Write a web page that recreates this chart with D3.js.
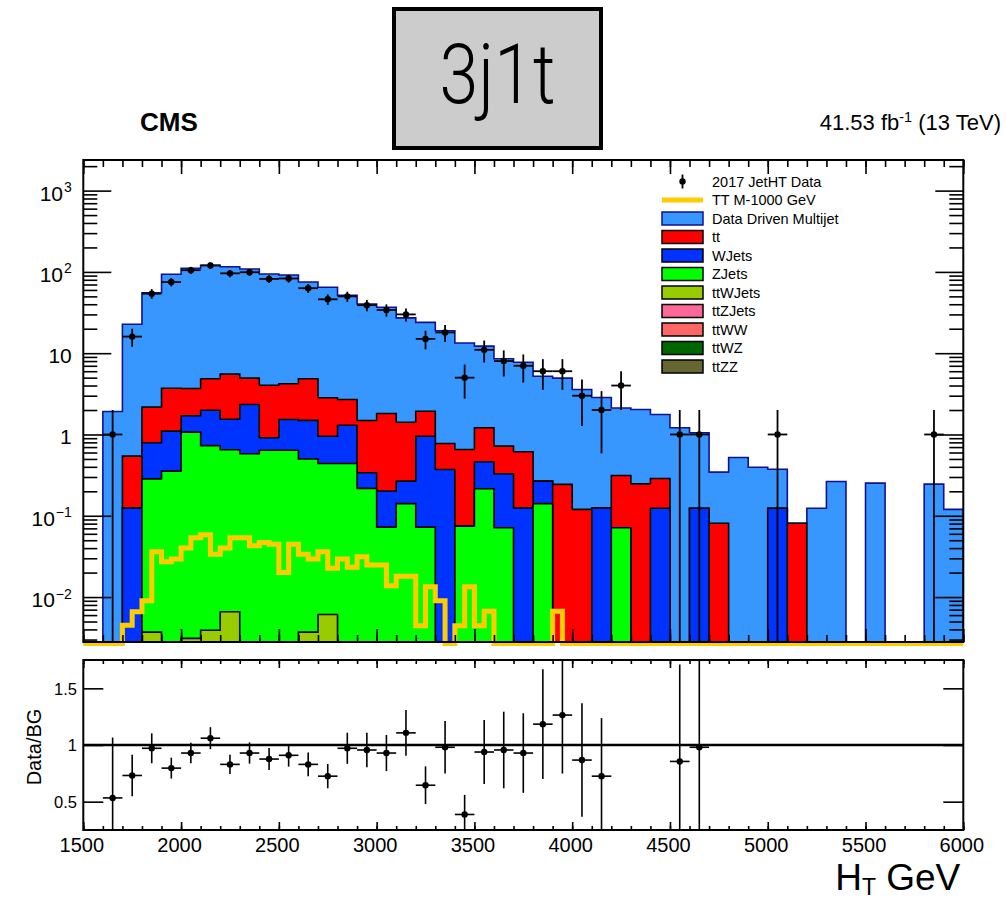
<!DOCTYPE html>
<html>
<head>
<meta charset="utf-8">
<script src="https://cdn.jsdelivr.net/npm/d3@7"></script>
<style>
  body { margin: 0; background: #fff; }
  svg { display: block; }
  text { font-family: "Liberation Sans", Arial, Helvetica, sans-serif; fill: #000; }
</style>
</head>
<body>
<svg id="chart" width="1007" height="904"></svg>
<script>
// ---------------- data ----------------
// H_T binning (GeV): 45 bins of 100 GeV for the backgrounds and data
const htMin = 1500, htMax = 6000, binWidth = 100;
// signal histogram uses 50 GeV bins
const sigBinWidth = 50;

// background yields per 100 GeV bin (events)
const qcd = [0, 1.92, 22.2, 53.3, 89.7, 107.0, 115.8, 110.4, 103.7, 90.3, 87.4, 70.3, 62.0, 48.9, 38.8,
  35.0, 25.8, 22.0, 18.1, 12.7, 11.0, 7.81, 7.14, 4.94, 4.69, 3.46, 2.73, 1.80, 1.78, 1.47,
  1.21, 0.926, 0.263, 0.521, 0.396, 0.250, 0, 0.124, 0.264, 0, 0.252, 0, 0, 0.245, 0.120];
const tt = [0, 0, 0.416, 1.38, 2.61, 1.98, 2.85, 3.98, 2.59, 3.13, 2.67, 3.35, 1.88, 1.39, 1.15,
  1.61, 1.15, 0.98, 0.404, 0.58, 0.75, 0.389, 0.487, 0, 0.243, 0.120, 0, 0.242, 0.247, 0.164,
  0, 0, 0.081, 0, 0, 0, 0.081, 0, 0, 0, 0, 0, 0, 0, 0];
const wJets = [0, 0, 0.125, 0.505, 0.746, 0.63, 1.26, 0.89, 1.76, 0.27, 0.89, 0.99, 0.51, 0.86, 0.121,
  0.129, 0.126, 0.88, 0.371, 0, 0.247, 0.258, 0.125, 0.126, 0, 0, 0.125, 0, 0, 0.124,
  0, 0.124, 0, 0, 0, 0.124, 0, 0, 0, 0, 0, 0, 0, 0, 0];
const zJets = [0, 0, 0, 0.281, 0.354, 1.067, 0.726, 0.643, 0.58, 0.64, 0.64, 0.496, 0.434, 0.44, 0.217,
  0.0724, 0.141, 0.0724, 0, 0.0745, 0.215, 0.0711, 0, 0.141, 0, 0, 0, 0.0711, 0, 0,
  0, 0, 0, 0, 0, 0, 0, 0, 0, 0, 0, 0, 0, 0, 0];
const ttWJets = [0, 0, 0, 0.0037, 0, 0.0031, 0.0039, 0.0066, 0, 0, 0, 0.0037, 0.0061, 0, 0,
  0, 0, 0, 0, 0, 0, 0, 0, 0, 0, 0, 0, 0, 0, 0,
  0, 0, 0, 0, 0, 0, 0, 0, 0, 0, 0, 0, 0, 0, 0];
const ttZJets = new Array(45).fill(0);
const ttWW = new Array(45).fill(0);
const ttWZ = new Array(45).fill(0);
const ttZZ = new Array(45).fill(0);

// TT M-1000 GeV signal per 50 GeV bin
const signal = [0, 0, 0, 0, 0.0045, 0.0066, 0.0090, 0.0361, 0.0272, 0.0293,
  0.0400, 0.0536, 0.0584, 0.0337, 0.0400, 0.0536, 0.0536, 0.0428, 0.0469, 0.0447,
  0.0201, 0.0447, 0.0337, 0.0293, 0.0361, 0.0226, 0.0293, 0.0232, 0.0314, 0.0248,
  0.0248, 0.0138, 0.0180, 0.0180, 0.00445, 0.0134, 0.0090, 0, 0.00445, 0.0134,
  0.00445, 0.0067, 0, 0, 0, 0, 0, 0, 0.0067, 0,
  0, 0, 0, 0, 0, 0, 0, 0, 0, 0,
  0, 0, 0, 0, 0, 0, 0, 0, 0, 0,
  0, 0, 0, 0, 0, 0, 0, 0, 0, 0,
  0, 0, 0, 0, 0, 0, 0, 0, 0, 0];

// 2017 JetHT data counts per 100 GeV bin
const dataCounts = [0, 1, 16, 54, 75, 105, 120, 96, 99, 82, 83, 63, 46, 50, 39,
  34, 30, 15, 18, 5, 11, 8, 7, 6, 6, 3, 2, 4, 0, 0,
  1, 1, 0, 0, 0, 1, 0, 0, 0, 0, 0, 0, 0, 1, 0];

// Data / background ratio per bin (null where there is no data)
const ratio = [null, 0.533, 0.731, 0.971, 0.796, 0.929, 1.060, 0.829, 0.929, 0.876, 0.909, 0.829, 0.725, 0.971, 0.956,
  0.929, 1.107, 0.645, 0.980, 0.387, 0.938, 0.956, 0.929, 1.184, 1.264, 0.867, 0.725, 1.90, null, null,
  0.855, 0.980, null, null, null, 2.67, null, null, null, null, null, null, null, 4.08, null];

// axis tick values
const xMajorTicks = [1500, 2000, 2500, 3000, 3500, 4000, 4500, 5000, 5500, 6000];
const yDecades = [0.01, 0.1, 1, 10, 100, 1000];
const ratioTicks = [0.5, 1, 1.5];

// legend
const legendLabels = ["2017 JetHT Data", "TT M-1000 GeV", "Data Driven Multijet", "tt", "WJets",
  "ZJets", "ttWJets", "ttZJets", "ttWW", "ttWZ", "ttZZ"];

// ---------------- styles ----------------
const colors = {
  QCD: "#3896ff", tt: "#ff0000", WJets: "#0033ff", ZJets: "#00ff00", ttWJets: "#99cc00",
  ttZJets: "#ff6699", ttWW: "#ff6666", ttWZ: "#006600", ttZZ: "#666633"
};
const outline = { QCD: "#101090" };
const signalColor = "#ffcc00";

// ---------------- layout ----------------
const svg = d3.select("#chart");
const X0 = 83.3, X1 = 963.3;
const UP = { top: 160, bottom: 642 };
const LO = { top: 660, bottom: 830 };

const x = d3.scaleLinear().domain([htMin, htMax]).range([X0, X1]);
const y = d3.scaleLog().domain([0.0028, 2380]).range([UP.bottom, UP.top]);
const yr = d3.scaleLinear().domain([0.25, 1.75]).range([LO.bottom, LO.top]);

const yVal = v => (v > y.domain()[0] ? Math.max(y(v), UP.top) : UP.bottom);
const line = d3.line();

// step outline of a binned histogram, starting and ending on the floor
function stepPoints(vals, width, yf, floorY) {
  const pts = [[x(htMin), floorY]];
  vals.forEach((v, i) => {
    const yy = yf(v);
    pts.push([x(htMin + i * width), yy], [x(htMin + (i + 1) * width), yy]);
  });
  pts.push([x(htMin + vals.length * width), floorY]);
  return pts;
}

// ---------------- stacked backgrounds ----------------
const keys = ["ttZZ", "ttWZ", "ttWW", "ttZJets", "ttWJets", "ZJets", "WJets", "tt", "QCD"];
const seriesValues = { ttZZ, ttWZ, ttWW, ttZJets, ttWJets, ZJets: zJets, WJets: wJets, tt, QCD: qcd };
const table = qcd.map((_, i) => {
  const row = {};
  keys.forEach(k => row[k] = seriesValues[k][i]);
  return row;
});
const layers = d3.stack().keys(keys)(table);

svg.append("clipPath").attr("id", "upClip")
  .append("rect").attr("x", X0).attr("y", UP.top).attr("width", X1 - X0).attr("height", UP.bottom - UP.top);

const stackG = svg.append("g").attr("clip-path", "url(#upClip)");
layers.slice().reverse().forEach(layer => {
  const tops = layer.map(d => d[1]);
  const pts = stepPoints(tops, binWidth, yVal, UP.bottom);
  stackG.append("path").attr("d", line(pts) + "Z").attr("fill", colors[layer.key]).attr("stroke", "none");
  stackG.append("path").attr("d", line(pts)).attr("fill", "none")
    .attr("stroke", outline[layer.key] || "#000").attr("stroke-width", 1.6);
});

// ---------------- signal ----------------
svg.append("path")
  .attr("d", line(stepPoints(signal, sigBinWidth, v => (v > y.domain()[0] ? y(v) : UP.bottom + 1.5), UP.bottom + 1.5)))
  .attr("fill", "none").attr("stroke", signalColor).attr("stroke-width", 5)
  .attr("stroke-linejoin", "miter");

// ---------------- data points ----------------
const dataG = svg.append("g");
dataCounts.forEach((n, i) => {
  if (n <= 0) return;
  const xl = x(htMin + i * binWidth), xr = x(htMin + (i + 1) * binWidth), xc = (xl + xr) / 2;
  const e = Math.sqrt(n);
  dataG.append("line").attr("x1", xl).attr("x2", xr).attr("y1", y(n)).attr("y2", y(n))
    .attr("stroke", "#000").attr("stroke-width", 1.8);
  dataG.append("line").attr("x1", xc).attr("x2", xc).attr("y1", yVal(n + e)).attr("y2", yVal(n - e))
    .attr("stroke", "#000").attr("stroke-width", 1.8);
  dataG.append("circle").attr("cx", xc).attr("cy", y(n)).attr("r", 3.2).attr("fill", "#000");
});

// ---------------- frames & axes ----------------
function styleAxis(g) {
  g.select(".domain").remove();
  g.selectAll(".tick line").attr("stroke", "#000").attr("stroke-width", 1.6);
  g.attr("font-family", null).attr("font-size", null);
}

// upper frame
svg.append("rect").attr("x", X0).attr("y", UP.top).attr("width", X1 - X0).attr("height", UP.bottom - UP.top)
  .attr("fill", "none").attr("stroke", "#000").attr("stroke-width", 2);

const minor100 = d3.range(htMin, htMax + 1, 100);
// upper x ticks (top and bottom, no labels)
[[d3.axisTop, UP.top, -14, -7], [d3.axisBottom, UP.bottom, -13, -7]].forEach(([ax, yy, big, small]) => {
  svg.append("g").attr("transform", `translate(0,${yy})`)
    .call(ax(x).tickValues(minor100).tickSize(small).tickFormat("")).call(styleAxis);
  svg.append("g").attr("transform", `translate(0,${yy})`)
    .call(ax(x).tickValues(xMajorTicks).tickSize(big).tickFormat("")).call(styleAxis);
});

// upper y ticks (log)
const yMinor = [];
[0.001, 0.01, 0.1, 1, 10, 100, 1000].forEach(d => {
  for (let m = 2; m <= 9; m++) { const v = d * m; if (v >= y.domain()[0] && v <= y.domain()[1]) yMinor.push(v); }
});
svg.append("g").attr("transform", `translate(${X0},0)`)
  .call(d3.axisLeft(y).tickValues(yMinor).tickSize(-14).tickFormat("")).call(styleAxis);
svg.append("g").attr("transform", `translate(${X1},0)`)
  .call(d3.axisRight(y).tickValues(yMinor).tickSize(-14).tickFormat("")).call(styleAxis);
svg.append("g").attr("transform", `translate(${X1},0)`)
  .call(d3.axisRight(y).tickValues(yDecades).tickSize(-28).tickFormat("")).call(styleAxis);

const yLeft = svg.append("g").attr("transform", `translate(${X0},0)`)
  .call(d3.axisLeft(y).tickValues(yDecades).tickSize(-28).tickPadding(11.5)).call(styleAxis);
yLeft.selectAll(".tick text").each(function (d) {
  const t = d3.select(this).text("").attr("font-size", 21).attr("dy", "0.45em");
  const exp = Math.round(Math.log10(d));
  if (exp === 0) { t.text("1"); return; }
  if (exp === 1) { t.text("10"); return; }
  t.append("tspan").text("10");
  t.append("tspan").attr("font-size", 14).attr("dy", "-0.6em").attr("dx", 1)
    .text(exp < 0 ? "\u2212" + (-exp) : String(exp));
});

// lower frame
svg.append("rect").attr("x", X0).attr("y", LO.top).attr("width", X1 - X0).attr("height", LO.bottom - LO.top)
  .attr("fill", "none").attr("stroke", "#000").attr("stroke-width", 2);

[[d3.axisTop, LO.top], [d3.axisBottom, LO.bottom]].forEach(([ax, yy]) => {
  svg.append("g").attr("transform", `translate(0,${yy})`)
    .call(ax(x).tickValues(minor100).tickSize(-4).tickFormat("")).call(styleAxis);
});
svg.append("g").attr("transform", `translate(0,${LO.top})`)
  .call(d3.axisTop(x).tickValues(xMajorTicks).tickSize(-8).tickFormat("")).call(styleAxis);
const xLow = svg.append("g").attr("transform", `translate(0,${LO.bottom})`)
  .call(d3.axisBottom(x).tickValues(xMajorTicks).tickSize(-8).tickPadding(7.8).tickFormat(d3.format("d")))
  .call(styleAxis);
xLow.selectAll(".tick text").attr("font-size", 20).attr("dx", -2);

const rLeft = svg.append("g").attr("transform", `translate(${X0},0)`)
  .call(d3.axisLeft(yr).tickValues(ratioTicks).tickSize(-20).tickPadding(6.3).tickFormat(d => String(d)))
  .call(styleAxis);
rLeft.selectAll(".tick text").attr("font-size", 16.5).attr("dy", "0.36em");
svg.append("g").attr("transform", `translate(${X1},0)`)
  .call(d3.axisRight(yr).tickValues(ratioTicks).tickSize(-20).tickFormat("")).call(styleAxis);

// unity line
svg.append("line").attr("x1", X0).attr("x2", X1).attr("y1", yr(1)).attr("y2", yr(1))
  .attr("stroke", "#000").attr("stroke-width", 2.6);

// ratio points
const rG = svg.append("g");
ratio.forEach((r, i) => {
  if (r === null || r < yr.domain()[0] || r > yr.domain()[1]) return;
  const xl = x(htMin + i * binWidth), xr = x(htMin + (i + 1) * binWidth), xc = (xl + xr) / 2;
  const e = r / Math.sqrt(dataCounts[i]);
  const cl = v => Math.min(Math.max(yr(v), LO.top), LO.bottom);
  rG.append("line").attr("x1", xl).attr("x2", xr).attr("y1", yr(r)).attr("y2", yr(r))
    .attr("stroke", "#000").attr("stroke-width", 1.6);
  rG.append("line").attr("x1", xc).attr("x2", xc).attr("y1", cl(r + e)).attr("y2", cl(r - e))
    .attr("stroke", "#000").attr("stroke-width", 1.6);
  rG.append("circle").attr("cx", xc).attr("cy", yr(r)).attr("r", 3.2).attr("fill", "#000");
});

// ---------------- labels ----------------
svg.append("text").attr("transform", `translate(41,${(LO.top + LO.bottom) / 2 + 2}) rotate(-90)`)
  .attr("text-anchor", "middle").attr("font-size", 20).text("Data/BG");

const xt = svg.append("text").attr("x", X1 - 3).attr("y", 890).attr("text-anchor", "end").attr("font-size", 37);
xt.append("tspan").text("H");
xt.append("tspan").attr("font-size", 23).attr("dy", 5).text("T");
xt.append("tspan").attr("dy", -5).text(" GeV");

svg.append("text").attr("x", 140).attr("y", 131).attr("font-size", 26).attr("font-weight", "bold").text("CMS");

const lumi = svg.append("text").attr("x", 1001).attr("y", 130).attr("text-anchor", "end").attr("font-size", 22);
lumi.append("tspan").text("41.53 fb");
lumi.append("tspan").attr("font-size", 14.5).attr("dy", -8).text("-1");
lumi.append("tspan").attr("dy", 8).text(" (13 TeV)");

// category box
svg.append("rect").attr("x", 394).attr("y", 9).attr("width", 207).attr("height", 139)
  .attr("fill", "#cccccc").attr("stroke", "#000").attr("stroke-width", 4);
svg.append("text").attr("x", 497.5).attr("y", 103).attr("text-anchor", "middle")
  .attr("font-size", 84).attr("font-weight", 300)
  .style("font-family", "Roboto, 'Liberation Sans', Arial, sans-serif")
  .attr("textLength", 116).attr("lengthAdjust", "spacingAndGlyphs").text("3j1t");

// ---------------- legend ----------------
const legKeys = [null, null, "QCD", "tt", "WJets", "ZJets", "ttWJets", "ttZJets", "ttWW", "ttWZ", "ttZZ"];
const leg = svg.append("g");
const rowY = d3.scaleLinear().domain([0, 1]).range([181.5, 200]);
legendLabels.forEach((label, i) => {
  const cy = rowY(i);
  if (i === 0) {
    leg.append("line").attr("x1", 682.5).attr("x2", 682.5).attr("y1", cy - 7).attr("y2", cy + 7)
      .attr("stroke", "#000").attr("stroke-width", 1.8);
    leg.append("circle").attr("cx", 682.5).attr("cy", cy).attr("r", 3.2).attr("fill", "#000");
  } else if (i === 1) {
    leg.append("line").attr("x1", 662).attr("x2", 703).attr("y1", cy).attr("y2", cy)
      .attr("stroke", signalColor).attr("stroke-width", 5);
  } else {
    const k = legKeys[i];
    leg.append("rect").attr("x", 662).attr("y", cy - 6.5).attr("width", 41).attr("height", 13)
      .attr("fill", colors[k]).attr("stroke", outline[k] || "#000").attr("stroke-width", 1.5);
  }
  leg.append("text").attr("x", 712).attr("y", cy + 5).attr("font-size", 14.5).text(label);
});
</script>
</body>
</html>
